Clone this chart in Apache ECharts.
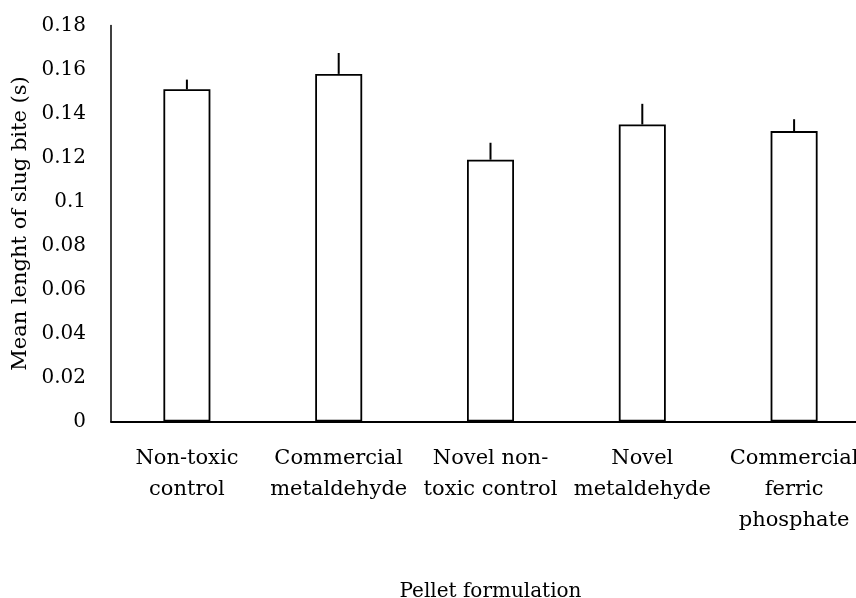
<!DOCTYPE html>
<html>
<head>
<meta charset="utf-8">
<script src="https://cdn.jsdelivr.net/npm/echarts@6/dist/echarts.min.js"></script>
<style>
  html, body { margin: 0; padding: 0; background: #fff; }
  #main { width: 856px; height: 598px; }
</style>
</head>
<body>
<div id="main"></div>
<script>
// 数据
var categories = ['Non-toxic\ncontrol', 'Commercial\nmetaldehyde', 'Novel non-\ntoxic control', 'Novel\nmetaldehyde', 'Commercial\nferric\nphosphate'];
var means = [0.151, 0.158, 0.119, 0.135, 0.132];
var errors = [0.0044, 0.0095, 0.0077, 0.0094, 0.0054];
var yTicks = [0, 0.02, 0.04, 0.06, 0.08, 0.1, 0.12, 0.14, 0.16, 0.18];

var fontFamily = 'DejaVu Serif';

var chart = echarts.init(document.getElementById('main'));

var option = {
  animation: false,
  grid: {
    left: 111,
    top: 25.5,
    width: 759,
    height: 396,
    containLabel: false,
    outerBoundsMode: 'none'
  },
  xAxis: {
    type: 'category',
    data: categories,
    name: 'Pellet formulation',
    nameLocation: 'middle',
    nameGap: 160,
    nameTextStyle: { color: '#000', fontFamily: fontFamily, fontSize: 20 },
    axisLine: { lineStyle: { color: '#000', width: 2 } },
    axisTick: { show: false },
    axisLabel: {
      color: '#000',
      fontFamily: fontFamily,
      fontSize: 21,
      lineHeight: 31,
      margin: 22,
      interval: 0
    }
  },
  yAxis: {
    type: 'value',
    min: 0,
    max: 0.18,
    interval: 0.02,
    name: 'Mean lenght of slug bite (s)',
    nameLocation: 'middle',
    nameGap: 79,
    nameTextStyle: { color: '#000', fontFamily: fontFamily, fontSize: 21 },
    axisLine: { show: true, lineStyle: { color: '#000', width: 1.5 } },
    axisTick: { show: false },
    splitLine: { show: false },
    axisLabel: {
      color: '#000',
      fontFamily: fontFamily,
      fontSize: 20,
      margin: 25,
      formatter: function (v) {
        var t = yTicks.find(function (k) { return Math.abs(k - v) < 1e-9; });
        return t === undefined ? '' : String(t);
      }
    }
  },
  series: [
    {
      type: 'bar',
      data: means,
      barWidth: 47,
      itemStyle: { color: '#fff', borderColor: '#000', borderWidth: 1.8 },
      z: 2
    },
    {
      // 误差线（只画上方）
      type: 'custom',
      z: 3,
      data: means.map(function (m, i) { return [i, m, m + errors[i]]; }),
      renderItem: function (params, api) {
        var p0 = api.coord([api.value(0), api.value(1)]);
        var p1 = api.coord([api.value(0), api.value(2)]);
        return {
          type: 'line',
          shape: { x1: p0[0], y1: p0[1], x2: p1[0], y2: p1[1] },
          style: { stroke: '#000', lineWidth: 2 }
        };
      }
    }
  ]
};

chart.setOption(option);
</script>
</body>
</html>
